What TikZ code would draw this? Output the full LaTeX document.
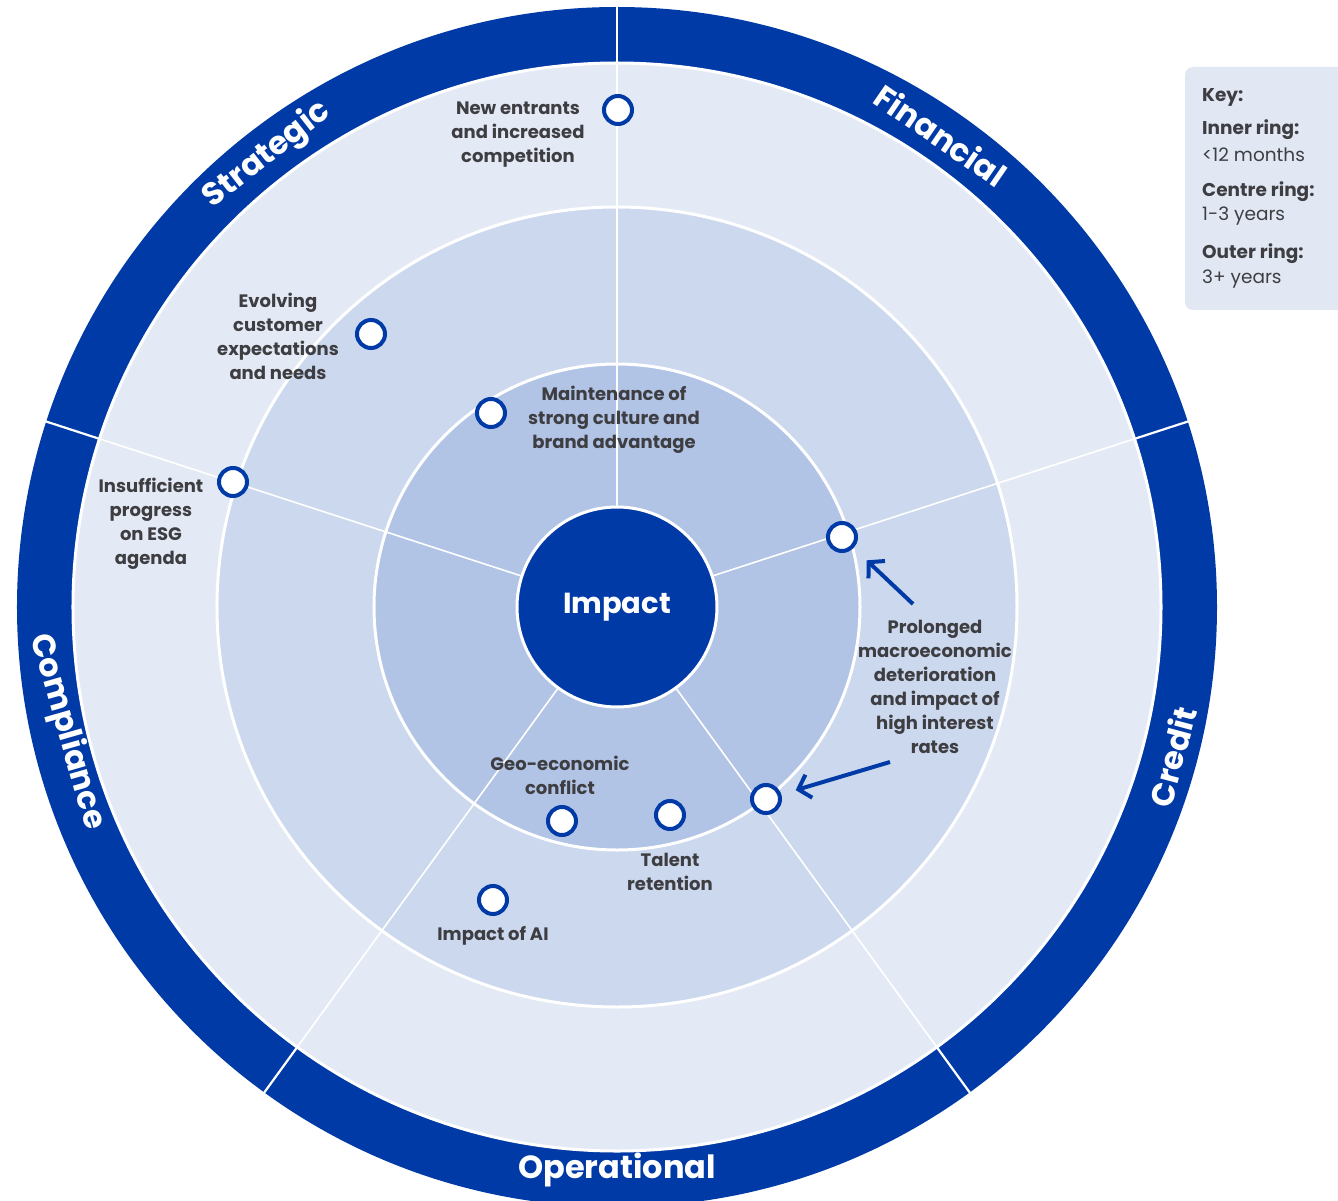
\documentclass[tikz,border=0pt]{standalone}
\usepackage{fontspec}
\setmainfont{Poppins}
\usetikzlibrary{arrows.meta}
\definecolor{ringblue}{RGB}{0,58,166}
\definecolor{outerfill}{RGB}{228,234,245}
\definecolor{centrefill}{RGB}{203,216,238}
\definecolor{innerfill}{RGB}{177,196,229}
\definecolor{txtgray}{RGB}{62,62,66}
\definecolor{keyfill}{RGB}{226,232,243}
\tikzset{
  marker/.style={circle, draw=ringblue, line width=4pt, fill=white, minimum size=28pt, inner sep=0pt},
  lbl/.style={align=center, text=txtgray, font=\bfseries\fontsize{18}{24}\selectfont, inner sep=0pt},
  ringlbl/.style={text=white, font=\bfseries\fontsize{32}{34}\selectfont, inner sep=0pt},
  keyhead/.style={anchor=west, text=txtgray, font=\bfseries\fontsize{18.5}{20}\selectfont, inner sep=0pt},
  keyval/.style={anchor=west, text=txtgray, font=\fontsize{18.5}{20}\selectfont, inner sep=0pt},
  divider/.style={white, line width=1.6pt},
  pointer/.style={ringblue, line width=4pt, -{Straight Barb[length=11pt,width=24pt,line width=4pt]}},
}
\begin{document}
\begin{tikzpicture}[x=1pt,y=1pt]
\useasboundingbox (-617,-593) rectangle (721,607);
\begin{scope}
\clip (-617,-593) rectangle (721,607);
% background
\fill[white] (-617,-593) rectangle (721,607);
% outer blue ring
\fill[ringblue] (0,0) circle (600);
% rings
\filldraw[fill=outerfill, draw=white, line width=3pt] (0,0) circle (544);
\filldraw[fill=centrefill, draw=white, line width=3pt] (0,0) circle (400);
\filldraw[fill=innerfill, draw=white, line width=3pt] (0,0) circle (243);
% dividers
\foreach \a in {90,18,-54,-126,162}{
  \draw[divider] (\a:100) -- (\a:544);
  \draw[white, line width=2.2pt] (\a:544) -- (\a:610);
}
% centre
\node[circle, fill=ringblue, draw=white, line width=3pt, minimum size=200pt, inner sep=0pt,
      text=white, font=\bfseries\fontsize{29}{31}\selectfont] (impact) at (0,0) {Impact};
% ring labels
\node[ringlbl, rotate=38] (strategic) at (-350,452) {Strategic};
\node[ringlbl, rotate=-34.5] (financial) at (324,472) {Financial};
\node[ringlbl, rotate=75] (credit) at (555,-150) {Credit};
\node[ringlbl] (operational) at (0,-563) {Operational};
\node[ringlbl, rotate=-74] (compliance) at (-550,-125) {Compliance};
\end{scope}
% markers
\node[marker] (m1) at (1,497) {};
\node[marker] (m2) at (-246,273) {};
\node[marker] (m3) at (-384,125) {};
\node[marker] (m4) at (-126,194) {};
\node[marker] (m5) at (225,70) {};
\node[marker] (m6) at (149,-192) {};
\node[marker] (m7) at (-55,-214) {};
\node[marker] (m8) at (53,-208) {};
\node[marker] (m9) at (-124,-293) {};
% risk labels
\node[lbl] (t1) at (-99,472) {New entrants\\and increased\\competition};
\node[lbl] (t2) at (-339,271) {Evolving\\customer\\expectations\\and needs};
\node[lbl] (t3) at (-466,83) {Insufficient\\progress\\on ESG\\agenda};
\node[lbl] (t4) at (-3,187) {Maintenance of\\strong culture and\\brand advantage};
\node[lbl] (t5) at (318,-80) {Prolonged\\macroeconomic\\deterioration\\and impact of\\high interest\\rates};
\node[lbl] (t7) at (-57,-168) {Geo-economic\\conflict};
\node[lbl] (t8) at (53,-265) {Talent\\retention};
\node[lbl] (t9) at (-124,-329) {Impact of AI};
% pointers
\coordinate (p1) at (296,3);
\coordinate (p2) at (273,-155);
\draw[pointer, shorten >=18pt] (p1) -- (m5);
\draw[pointer, shorten >=15pt] (p2) -- (m6);
% key
\begin{scope}
\clip (-617,-593) rectangle (721,607);
\fill[keyfill, rounded corners=8pt] (568,297) rectangle (740,540);
\end{scope}
\node[keyhead] (k0) at (585,510) {Key:};
\node[keyhead] (k1) at (585,477) {Inner ring:};
\node[keyval] (k2) at (585,452) {<12 months};
\node[keyhead] (k3) at (585,415) {Centre ring:};
\node[keyval] (k4) at (585,391) {1-3 years};
\node[keyhead] (k5) at (585,353) {Outer ring:};
\node[keyval] (k6) at (585,328) {3+ years};
\end{tikzpicture}
\end{document}
